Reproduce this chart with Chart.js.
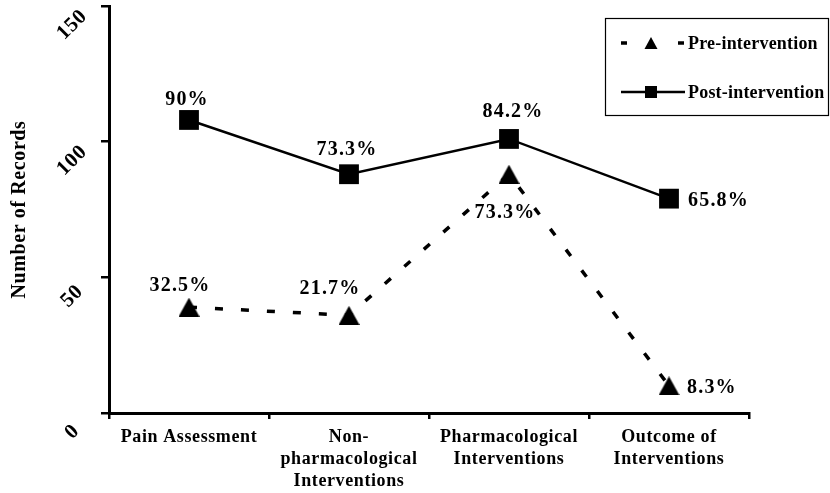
<!DOCTYPE html>
<html>
<head>
<meta charset="utf-8">
<script src="https://cdn.jsdelivr.net/npm/chart.js@4.4.1/dist/chart.umd.min.js"></script>
<style>
    body { margin: 0; background: #fff; }
    #wrap { width: 830px; height: 493px; position: relative; }
</style>
</head>
<body>
<div id="wrap"><canvas id="myChart"></canvas></div>
<script>
const categories = ['Pain Assessment', ['Non-', 'pharmacological', 'Interventions'], ['Pharmacological', 'Interventions'], ['Outcome of', 'Interventions']];
const preValues = [39, 36, 88, 10];
const postValues = [108, 88, 101, 79];
const preLabels = ['32.5%', '21.7%', '73.3%', '8.3%'];
const postLabels = ['90%', '73.3%', '84.2%', '65.8%'];
const yTicks = [0, 50, 100, 150];

// where each percentage sits relative to its marker: [dx, dy, align]
const preLabelShift = [[-9, -21, 'center'], [-19, -26, 'center'], [-4, 39, 'center'], [18, 2, 'left']];
const postLabelShift = [[-2, -20, 'center'], [-2, -24, 'center'], [4, -27, 'center'], [19, 2, 'left']];

const serif = "'Liberation Serif', 'Times New Roman', serif";

// triangle centred on its bounding box, like the original
function triangleImage(w, h) {
    const c = document.createElement('canvas');
    c.width = w;
    c.height = h;
    const g = c.getContext('2d');
    g.fillStyle = '#000';
    g.beginPath();
    g.moveTo(w / 2, 0);
    g.lineTo(w, h);
    g.lineTo(0, h);
    g.closePath();
    g.fill();
    return c;
}

const spacingPlugin = {
    id: 'spacing',
    beforeDraw(chart) {
        chart.ctx.letterSpacing = '0.6px';
    },
    afterDraw(chart) {
        chart.ctx.letterSpacing = '0px';
    }
};

const pctLabelsPlugin = {
    id: 'pctLabels',
    afterDatasetsDraw(chart) {
        const ctx = chart.ctx;
        ctx.save();
        ctx.font = 'bold 20px ' + serif;
        ctx.letterSpacing = '1.2px';
        ctx.fillStyle = '#000';
        ctx.textBaseline = 'middle';
        chart.data.datasets.forEach((ds, i) => {
            const meta = chart.getDatasetMeta(i);
            meta.data.forEach((pt, j) => {
                const s = ds.labelShift[j];
                ctx.textAlign = s[2];
                ctx.fillText(ds.pctLabels[j], pt.x + s[0], pt.y + s[1]);
            });
        });
        ctx.restore();
    }
};

const boxLegendPlugin = {
    id: 'boxLegend',
    afterDraw(chart) {
        const ctx = chart.ctx;
        ctx.save();
        ctx.strokeStyle = '#000';
        ctx.fillStyle = '#000';
        ctx.lineWidth = 1.2;
        ctx.strokeRect(605.5, 18.5, 223, 97);
        const rows = [
            { y: 43, dash: [6, 51], width: 3.5 },
            { y: 92, dash: [], width: 2.5 }
        ];
        chart.data.datasets.forEach((ds, i) => {
            const row = rows[i];
            ctx.setLineDash(row.dash);
            ctx.lineWidth = row.width;
            ctx.beginPath();
            ctx.moveTo(621, row.y);
            ctx.lineTo(685, row.y);
            ctx.stroke();
            ctx.setLineDash([]);
            ctx.beginPath();
            if (i === 0) {
                ctx.moveTo(651, row.y - 6);
                ctx.lineTo(657.5, row.y + 6);
                ctx.lineTo(644.5, row.y + 6);
                ctx.closePath();
            } else {
                ctx.rect(645, row.y - 6, 12, 12);
            }
            ctx.fill();
            ctx.font = 'bold 18px ' + serif;
            ctx.letterSpacing = '0.2px';
            ctx.textAlign = 'left';
            ctx.textBaseline = 'middle';
            ctx.fillText(ds.label, 688, row.y + 1);
        });
        ctx.restore();
    }
};

const ctx = document.getElementById('myChart').getContext('2d');
const myChart = new Chart(ctx, {
    type: 'line',
    data: {
        labels: categories,
        datasets: [{
                label: 'Pre-intervention',
                data: preValues,
                pctLabels: preLabels,
                labelShift: preLabelShift,
                borderColor: '#000',
                backgroundColor: '#000',
                borderWidth: 3.5,
                borderDash: [8, 18],
                pointStyle: triangleImage(21, 19),
                pointRadius: 12,
                pointBorderWidth: 0,
                tension: 0
            }, {
                label: 'Post-intervention',
                data: postValues,
                pctLabels: postLabels,
                labelShift: postLabelShift,
                borderColor: '#000',
                backgroundColor: '#000',
                borderWidth: 2.5,
                pointStyle: 'rect',
                pointRadius: 14,
                pointBorderWidth: 0,
                tension: 0
            }]
    },
    options: {
        responsive: true,
        maintainAspectRatio: false,
        animation: false,
        events: [],
        layout: { autoPadding: false, padding: { top: 6, right: 81, bottom: 0, left: 0 } },
        plugins: {
            legend: { display: false },
            tooltip: { enabled: false }
        },
        scales: {
            x: {
                offset: true,
                grid: { offset: true, drawOnChartArea: false, drawTicks: true, tickLength: 6, color: '#000', lineWidth: 2.5 },
                border: { color: '#000', width: 3 },
                ticks: {
                    color: '#000',
                    padding: 8,
                    maxRotation: 0,
                    autoSkip: false,
                    font: { family: serif, size: 18, weight: 'bold', lineHeight: 1.2 }
                },
                afterFit(scale) {
                    scale.height = 80;
                    scale.paddingLeft = 0;
                    scale.paddingRight = 0;
                }
            },
            y: {
                min: 0,
                max: 150,
                afterBuildTicks(scale) {
                    scale.ticks = yTicks.map(v => ({ value: v }));
                },
                grid: { drawOnChartArea: false, drawTicks: true, tickLength: 8, color: '#000', lineWidth: 2.5 },
                border: { color: '#000', width: 3 },
                ticks: {
                    color: '#000',
                    minRotation: 45,
                    maxRotation: 45,
                    crossAlign: 'center',
                    padding: 13,
                    labelOffset: 19,
                    font: { family: serif, size: 21, weight: 'bold' }
                },
                title: {
                    display: true,
                    text: 'Number of Records',
                    color: '#000',
                    padding: { top: 8, bottom: 0 },
                    font: { family: serif, size: 20, weight: 'bold', lineHeight: 1.2 }
                },
                afterFit(scale) {
                    scale.width = 109;
                    scale.paddingTop = 0;
                    scale.paddingBottom = 0;
                }
            }
        }
    },
    plugins: [spacingPlugin, pctLabelsPlugin, boxLegendPlugin]
});
</script>
</body>
</html>
